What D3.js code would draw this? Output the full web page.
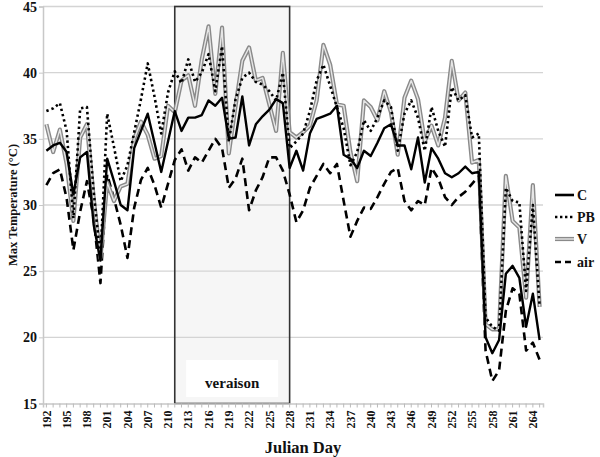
<!DOCTYPE html>
<html>
<head>
<meta charset="utf-8">
<script src="https://cdn.jsdelivr.net/npm/d3@7"></script>
<style>
  html, body { margin: 0; padding: 0; background: #fff; }
  svg { display: block; }
  text { font-family: "Liberation Serif", "Times New Roman", serif; font-weight: bold; fill: #111; }
</style>
</head>
<body>
<svg id="chart" width="600" height="457"></svg>
<script>
// ---- data ----
const days = d3.range(192, 266); // Julian days 192..265
const tickDays = [192,195,198,201,204,207,210,213,216,219,222,225,228,231,234,237,240,243,246,249,252,255,258,261,264];
const yTicks = [15,20,25,30,35,40,45];
const veraison = [211, 228];

const seriesC = [34.1,34.5,34.7,34.0,30.8,33.6,34.0,28.5,25.8,33.5,31.8,30.0,29.6,34.3,35.6,36.9,34.7,32.5,34.8,37.1,
  35.6,36.6,36.6,36.8,37.9,37.5,38.1,35.0,35.1,38.2,34.5,36.1,36.7,37.2,38.0,37.7,32.8,34.1,32.6,35.4,
  36.5,36.7,36.9,37.5,33.8,33.5,32.8,34.1,33.7,34.7,35.8,36.1,34.5,34.5,32.7,35.1,31.7,34.3,33.5,32.4,
  32.1,32.4,32.9,32.4,32.5,20.0,18.8,19.8,24.8,25.4,24.5,20.8,23.3,19.8];
const seriesPB = [37.1,37.3,37.7,35.6,29.0,37.3,37.4,31.0,26.0,36.9,34.4,31.8,33.0,35.5,38.0,40.7,38.2,35.4,38.5,40.1,
  39.2,41.0,39.3,40.0,41.4,38.6,42.0,34.8,38.0,39.6,40.0,39.3,39.1,38.6,37.9,40.0,34.3,34.8,35.4,37.1,
  39.4,40.6,39.0,37.4,35.8,33.0,34.0,36.4,35.6,36.6,37.9,37.4,34.1,36.9,37.9,36.6,34.1,37.4,35.6,34.4,
  38.9,37.9,38.3,35.1,35.4,21.5,20.8,20.5,31.3,30.3,30.2,23.5,30.0,22.3];
const seriesV = [36.1,34.0,35.7,33.1,28.8,35.1,36.1,30.5,26.0,31.7,30.3,31.4,31.6,35.0,36.3,35.3,33.5,33.7,37.5,37.0,
  39.4,39.8,37.5,41.0,43.5,38.4,43.4,33.9,37.5,40.9,41.9,39.4,39.6,37.6,35.6,41.5,35.5,35.1,35.5,36.0,
  37.9,42.1,40.6,37.6,37.5,34.0,31.8,37.9,37.4,36.4,38.6,37.0,33.8,38.1,39.4,38.0,34.8,36.0,34.5,36.6,
  40.9,37.9,38.5,33.2,33.4,21.0,20.6,20.6,32.2,28.8,28.3,23.0,31.5,22.3];
const seriesAir = [31.5,32.4,32.7,30.5,26.6,29.5,31.8,29.0,24.1,32.3,30.5,28.5,26.0,29.8,31.9,32.8,31.5,29.8,31.6,33.4,
  34.2,32.6,33.6,33.2,34.1,35.0,34.3,31.3,32.0,33.5,29.6,31.1,32.1,33.6,33.6,32.6,30.8,28.7,29.6,31.3,
  32.2,33.1,32.4,33.1,30.3,27.6,28.8,29.8,29.7,30.6,31.6,32.5,32.8,30.3,29.6,30.3,30.0,32.8,32.0,30.6,
  30.0,30.6,31.0,31.6,32.2,19.0,16.7,17.5,22.0,23.7,23.3,19.0,19.6,18.3];
const seriesNames = ["C", "PB", "V", "air"];

// ---- layout ----
const svg = d3.select("#chart");
const L = 43, R = 543, T = 6.5, B = 403.5;
const x = d3.scaleBand().domain(days).range([L, R]).padding(0);
const xc = d => x(d) + x.bandwidth() / 2;
const y = d3.scaleLinear().domain([15, 45]).range([B, T]);

// veraison box
svg.append("rect")
  .attr("x", xc(veraison[0])).attr("y", y(45))
  .attr("width", xc(veraison[1]) - xc(veraison[0])).attr("height", y(15) - y(45))
  .attr("fill", "#f6f6f6");

// gridlines
svg.append("g").selectAll("line").data(yTicks.filter(v => v > 15)).join("line")
  .attr("x1", L).attr("x2", R).attr("y1", d => y(d)).attr("y2", d => y(d))
  .attr("stroke", "#d4d4d4").attr("stroke-width", 1.3);

// box border drawn on top of grid
svg.append("rect")
  .attr("x", xc(veraison[0])).attr("y", y(45))
  .attr("width", xc(veraison[1]) - xc(veraison[0])).attr("height", y(15) - y(45))
  .attr("fill", "none").attr("stroke", "#333").attr("stroke-width", 1.6);

// veraison label
const vx = (xc(veraison[0]) + xc(veraison[1])) / 2;
svg.append("rect").attr("x", vx - 46).attr("y", 360).attr("width", 92).attr("height", 37).attr("fill", "#fff");
svg.append("text").attr("x", vx).attr("y", 388).attr("text-anchor", "middle")
  .attr("font-size", 15).text("veraison");

// y axis
const yAxis = d3.axisLeft(y).tickValues(yTicks).tickSize(4).tickFormat(d3.format("d"));
const gy = svg.append("g").attr("transform", `translate(${L},0)`).call(yAxis);
gy.select(".domain").attr("stroke", "#c8c8c8").attr("stroke-width", 1.5);
gy.selectAll(".tick line").attr("stroke", "#c8c8c8");
gy.selectAll(".tick text").attr("font-size", 14).attr("font-family", "Liberation Serif, serif")
  .attr("font-weight", "bold").attr("fill", "#111").attr("x", -6).attr("dy", "0.33em");

// x axis
const xAxis = d3.axisBottom(x).tickSize(4).tickFormat(d => tickDays.includes(d) ? d : "");
const gx = svg.append("g").attr("transform", `translate(0,${B})`).call(xAxis);
gx.select(".domain").attr("stroke", "#c8c8c8").attr("stroke-width", 1.5);
gx.selectAll(".tick line").attr("stroke", "#bbb");
gx.selectAll(".tick text").attr("font-size", 12).attr("font-family", "Liberation Serif, serif")
  .attr("font-weight", "bold").attr("fill", "#111")
  .attr("transform", "rotate(-90)").attr("text-anchor", "end").attr("dy", "0.35em")
  .attr("x", -7).attr("y", 0);

// lines
const line = vals => d3.line().x((v, i) => xc(days[i])).y(v => y(v))(vals);
const g = svg.append("g").attr("stroke-linejoin", "round").attr("fill", "none");

// air (dashed)
g.append("path").attr("d", line(seriesAir)).attr("stroke", "#000").attr("stroke-width", 2.6)
  .attr("stroke-dasharray", "8,5");
// V (gray double line)
g.append("path").attr("d", line(seriesV)).attr("stroke", "#8a8a8a").attr("stroke-width", 4.2);
g.append("path").attr("d", line(seriesV)).attr("stroke", "#e6e6e6").attr("stroke-width", 1.4);
// PB (dotted)
g.append("path").attr("d", line(seriesPB)).attr("stroke", "#000").attr("stroke-width", 2.6)
  .attr("stroke-dasharray", "2.4,3");
// C (solid)
g.append("path").attr("d", line(seriesC)).attr("stroke", "#000").attr("stroke-width", 2.4);

// legend
const leg = svg.append("g");
const legY = [195, 217, 239, 262];
const legX0 = 555, legX1 = 574;
seriesNames.forEach((n, i) => {
  const yy = legY[i];
  if (n === "C") {
    leg.append("line").attr("x1", legX0).attr("x2", legX1).attr("y1", yy).attr("y2", yy)
      .attr("stroke", "#000").attr("stroke-width", 2.6);
  } else if (n === "PB") {
    leg.append("line").attr("x1", legX0).attr("x2", legX1).attr("y1", yy).attr("y2", yy)
      .attr("stroke", "#000").attr("stroke-width", 2.6).attr("stroke-dasharray", "2.4,2.6");
  } else if (n === "V") {
    leg.append("line").attr("x1", legX0).attr("x2", legX1).attr("y1", yy).attr("y2", yy)
      .attr("stroke", "#8a8a8a").attr("stroke-width", 4.2);
    leg.append("line").attr("x1", legX0).attr("x2", legX1).attr("y1", yy).attr("y2", yy)
      .attr("stroke", "#e6e6e6").attr("stroke-width", 1.4);
  } else {
    leg.append("line").attr("x1", legX0).attr("x2", legX1).attr("y1", yy).attr("y2", yy)
      .attr("stroke", "#000").attr("stroke-width", 2.6).attr("stroke-dasharray", "6,4");
  }
  leg.append("text").attr("x", legX1 + 3).attr("y", yy).attr("dy", "0.35em")
    .attr("font-size", 14).text(n);
});

// axis titles
svg.append("text").attr("transform", `translate(13,${(T + B) / 2}) rotate(-90)`)
  .attr("text-anchor", "middle").attr("dy", "0.35em").attr("font-size", 12.5)
  .text("Max Temperature  (°C)");
svg.append("text").attr("x", 303).attr("y", 453).attr("text-anchor", "middle")
  .attr("font-size", 16.5).text("Julian Day");
</script>
</body>
</html>
